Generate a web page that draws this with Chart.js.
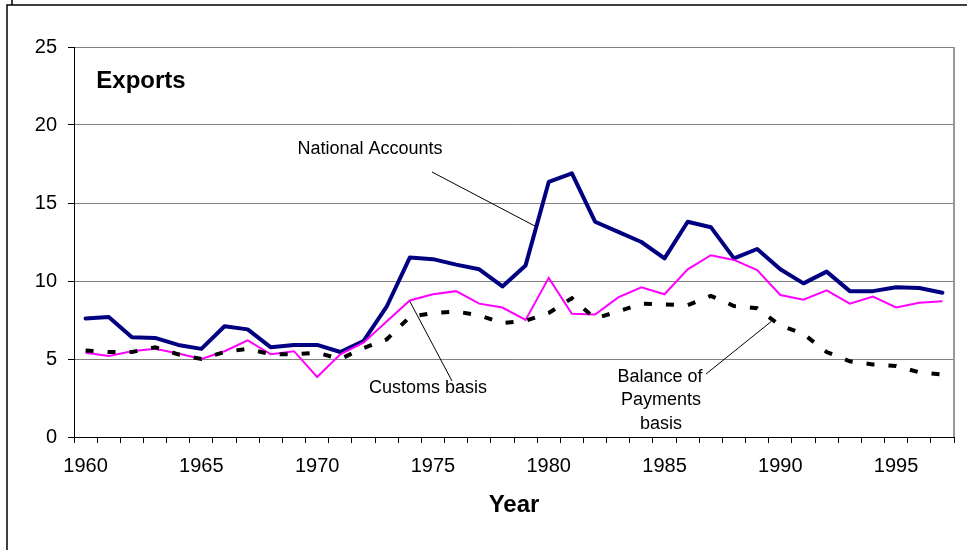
<!DOCTYPE html>
<html>
<head>
<meta charset="utf-8">
<title>Exports</title>
<script src="https://cdn.jsdelivr.net/npm/chart.js@4/dist/chart.umd.min.js"></script>
<style>
  html, body { margin: 0; padding: 0; background: #fff; }
  #wrap { width: 969px; height: 550px; position: relative; }
  canvas { display: block; }
</style>
</head>
<body>
<div id="wrap"><canvas id="c" width="969" height="550"></canvas></div>
<script>
// Years on the category axis
const years = [];
for (let y = 1960; y <= 1997; y++) years.push(String(y));

// Exports, three measurement bases
const nationalAccounts = [
  7.6, 7.7, 6.4, 6.35, 5.9, 5.65, 7.1, 6.9, 5.75, 5.9,
  5.9, 5.45, 6.15, 8.35, 11.5, 11.4, 11.05, 10.75, 9.65, 11.0,
  16.35, 16.9, 13.8, 13.15, 12.5, 11.45, 13.8, 13.45, 11.45, 12.05,
  10.75, 9.85, 10.6, 9.35, 9.35, 9.6, 9.55, 9.25
];
const customsBasis = [
  5.4, 5.2, 5.5, 5.65, 5.35, 5.0, 5.5, 6.2, 5.3, 5.5,
  3.85, 5.3, 6.05, 7.4, 8.75, 9.15, 9.35, 8.55, 8.3, 7.5,
  10.2, 7.9, 7.85, 8.95, 9.6, 9.15, 10.75, 11.65, 11.35, 10.7,
  9.1, 8.8, 9.4, 8.55, 9.0, 8.3, 8.6, 8.7
];
const balanceOfPayments = [
  5.55, 5.45, 5.45, 5.75, 5.3, 5.0, 5.45, 5.65, 5.3, 5.3,
  5.4, 5.0, 5.7, 6.25, 7.7, 7.95, 8.05, 7.8, 7.3, 7.45,
  7.95, 8.9, 7.6, 8.05, 8.55, 8.5, 8.45, 9.05, 8.4, 8.25,
  7.15, 6.6, 5.45, 4.85, 4.65, 4.55, 4.15, 4.0
];

// Value axis ticks
const yTicks = [0, 5, 10, 15, 20, 25];

const FONT = '"Liberation Sans", Arial, Helvetica, sans-serif';

// Frame, plot border, series labels and leader lines
const decorations = {
  id: 'decorations',
  afterDraw(chart) {
    const ctx = chart.ctx;
    const a = chart.chartArea;
    const xs = chart.scales.x, ys = chart.scales.y;
    ctx.save();

    // outer frame
    ctx.strokeStyle = '#000';
    ctx.lineWidth = 1.5;
    ctx.beginPath();
    ctx.moveTo(7, 550); ctx.lineTo(7, 5); ctx.lineTo(967, 5);
    ctx.moveTo(12, 0); ctx.lineTo(12, 5);
    ctx.stroke();

    // plot area right edge
    ctx.strokeStyle = '#999';
    ctx.lineWidth = 2;
    ctx.beginPath();
    ctx.moveTo(a.right, a.top); ctx.lineTo(a.right, a.bottom);
    ctx.stroke();

    // axis lines
    ctx.strokeStyle = '#000';
    ctx.lineWidth = 1;
    ctx.beginPath();
    ctx.moveTo(a.left + 0.5, a.top); ctx.lineTo(a.left + 0.5, a.bottom + 0.5);
    ctx.lineTo(a.right, a.bottom + 0.5);
    ctx.stroke();

    // text labels
    ctx.fillStyle = '#000';
    ctx.textAlign = 'center';
    ctx.textBaseline = 'middle';
    ctx.font = 'bold 24px ' + FONT;
    ctx.fillText('Exports', 141, 81);

    ctx.font = '18px ' + FONT;
    ctx.fillText('National Accounts', 370, 149);
    ctx.fillText('Customs basis', 428, 388);
    ctx.fillText('Balance of', 660, 377);
    ctx.fillText('Payments', 661, 400);
    ctx.fillText('basis', 661, 424);

    // leader lines from labels to series
    const px = i => xs.getPixelForValue(i);
    const py = v => ys.getPixelForValue(v);
    ctx.lineWidth = 1;
    ctx.beginPath();
    ctx.moveTo(432, 172); ctx.lineTo(px(19) + 10, py(13.5));
    ctx.moveTo(px(14), py(8.7)); ctx.lineTo(452, 381);
    ctx.moveTo(706, 374); ctx.lineTo(px(29) + 14, py(7.4));
    ctx.stroke();

    ctx.restore();
  }
};

new Chart(document.getElementById('c'), {
  type: 'line',
  data: {
    labels: years,
    datasets: [
      {
        label: 'National Accounts',
        data: nationalAccounts,
        borderColor: '#000080',
        borderWidth: 4,
        borderJoinStyle: 'round',
        borderCapStyle: 'round',
        pointRadius: 0,
        tension: 0,
        order: 3
      },
      {
        label: 'Customs basis',
        data: customsBasis,
        borderColor: '#FF00FF',
        borderWidth: 2,
        pointRadius: 0,
        tension: 0,
        order: 2
      },
      {
        label: 'Balance of Payments basis',
        data: balanceOfPayments,
        borderColor: '#000000',
        borderWidth: 4,
        borderDash: [8, 14],
        pointRadius: 0,
        tension: 0,
        order: 1
      }
    ]
  },
  options: {
    responsive: false,
    animation: false,
    devicePixelRatio: 1,
    layout: { padding: { top: 47, right: 15, left: 0, bottom: 0 } },
    plugins: {
      legend: { display: false },
      tooltip: { enabled: false },
      title: { display: false }
    },
    scales: {
      x: {
        type: 'category',
        offset: true,
        afterFit(scale) { scale.height = 113; },
        grid: {
          offset: true,
          drawOnChartArea: false,
          drawTicks: true,
          tickLength: 6,
          tickColor: '#000',
          color: '#000'
        },
        border: { display: true, color: '#000', width: 1 },
        ticks: {
          autoSkip: false,
          maxRotation: 0,
          minRotation: 0,
          padding: 11,
          color: '#000',
          font: { family: FONT, size: 20 },
          callback(value, index) {
            const yr = Number(years[index]);
            return yr % 5 === 0 ? years[index] : '';
          }
        },
        title: {
          display: true,
          text: 'Year',
          color: '#000',
          font: { family: FONT, size: 24, weight: 'bold' },
          padding: { top: 0, bottom: 30 }
        }
      },
      y: {
        min: 0,
        max: 25,
        afterFit(scale) { scale.width = 74; },
        afterBuildTicks(scale) { scale.ticks = yTicks.map(v => ({ value: v })); },
        grid: {
          color: ctx => (ctx.tick && ctx.tick.value === 0 ? 'rgba(0,0,0,0)' : '#808080'),
          lineWidth: 1,
          drawTicks: true,
          tickLength: 6,
          tickColor: '#000'
        },
        border: { display: true, color: '#000', width: 1 },
        ticks: {
          padding: 11,
          color: '#000',
          font: { family: FONT, size: 20 }
        }
      }
    }
  },
  plugins: [decorations]
});
</script>
</body>
</html>
